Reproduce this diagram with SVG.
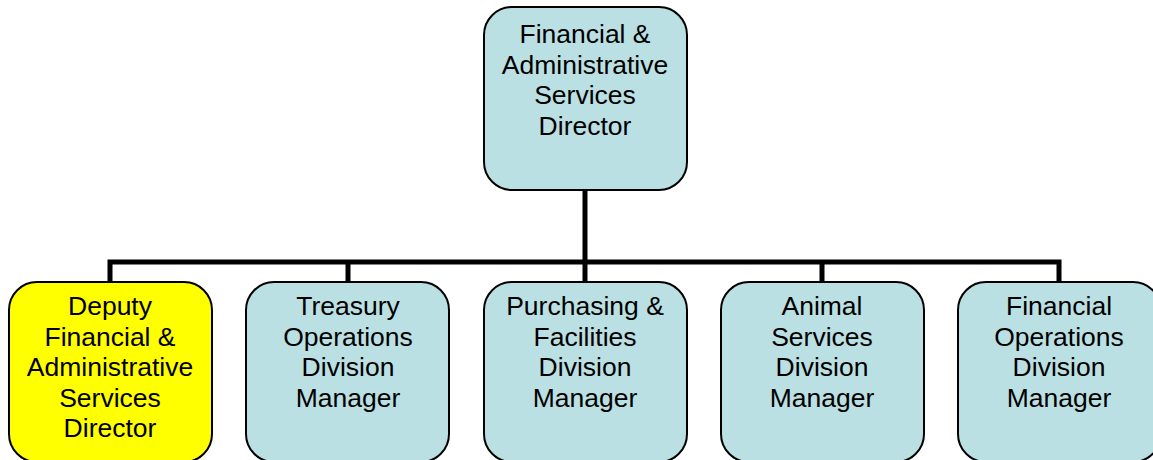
<svg xmlns="http://www.w3.org/2000/svg" width="1153" height="460" viewBox="0 0 1153 460">
<style>
.box{fill:#BBE0E3;stroke:#000;stroke-width:2}
.yel{fill:#FFFF00;stroke:#000;stroke-width:2}
.t{font-family:"Liberation Sans",Arial,sans-serif;font-size:26.5px;fill:#000;text-anchor:middle}
.c{fill:none;stroke:#000;stroke-width:5;stroke-linecap:butt;stroke-linejoin:miter}
</style>
<rect width="1153" height="460" fill="#fff"/>
<g id="connectors">
<path class="c" d="M585 191V262"/>
<path class="c" d="M110 283V262H1059V283"/>
<path class="c" d="M348 262V283M585 262V283M822 262V283"/>
</g>
<g id="director">
<rect class="box" x="484" y="7" width="203" height="183" rx="28"/>
<text class="t" x="585" y="43">Financial &amp;</text>
<text class="t" x="585" y="73.5">Administrative</text>
<text class="t" x="585" y="104">Services</text>
<text class="t" x="585" y="134.5">Director</text>
</g>
<g id="deputy">
<rect class="yel" x="9" y="282" width="203" height="180" rx="28"/>
<text class="t" x="110" y="315">Deputy</text>
<text class="t" x="110" y="345.5">Financial &amp;</text>
<text class="t" x="110" y="376">Administrative</text>
<text class="t" x="110" y="406.5">Services</text>
<text class="t" x="110" y="437">Director</text>
</g>
<g id="treasury">
<rect class="box" x="246" y="282" width="203" height="180" rx="28"/>
<text class="t" x="348" y="315">Treasury</text>
<text class="t" x="348" y="345.5">Operations</text>
<text class="t" x="348" y="376">Division</text>
<text class="t" x="348" y="406.5">Manager</text>
</g>
<g id="purchasing">
<rect class="box" x="484" y="282" width="203" height="180" rx="28"/>
<text class="t" x="585" y="315">Purchasing &amp;</text>
<text class="t" x="585" y="345.5">Facilities</text>
<text class="t" x="585" y="376">Division</text>
<text class="t" x="585" y="406.5">Manager</text>
</g>
<g id="animal">
<rect class="box" x="721" y="282" width="203" height="180" rx="28"/>
<text class="t" x="822" y="315">Animal</text>
<text class="t" x="822" y="345.5">Services</text>
<text class="t" x="822" y="376">Division</text>
<text class="t" x="822" y="406.5">Manager</text>
</g>
<g id="finops">
<rect class="box" x="958" y="282" width="203" height="180" rx="28"/>
<text class="t" x="1059" y="315">Financial</text>
<text class="t" x="1059" y="345.5">Operations</text>
<text class="t" x="1059" y="376">Division</text>
<text class="t" x="1059" y="406.5">Manager</text>
</g>
</svg>
